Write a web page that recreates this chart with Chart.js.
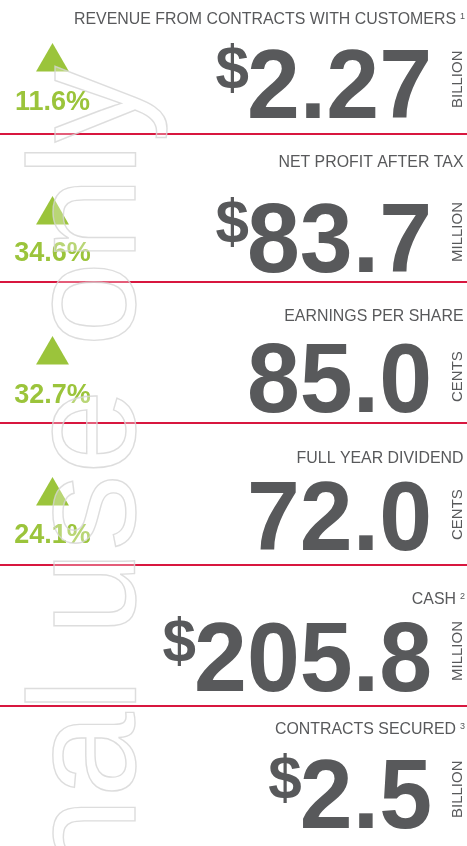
<!DOCTYPE html>
<html>
<head>
<meta charset="utf-8">
<script src="https://cdn.jsdelivr.net/npm/chart.js@4.4.1/dist/chart.umd.min.js"></script>
<style>
  html, body { margin:0; padding:0; background:#fff; }
  #kpi { display:block; }
</style>
</head>
<body>
<canvas id="kpi" width="467" height="846"></canvas>
<script>
// Data
const metrics = ['REVENUE FROM CONTRACTS WITH CUSTOMERS', 'NET PROFIT AFTER TAX', 'EARNINGS PER SHARE',
                 'FULL YEAR DIVIDEND', 'CASH', 'CONTRACTS SECURED'];
const notes = ['1', '', '', '', '2', '3'];
const values = [2.27, 83.7, 85.0, 72.0, 205.8, 2.5];
const decimals = [2, 1, 1, 1, 1, 1];
const prefixes = ['$', '$', '', '', '$', '$'];
const units = ['BILLION', 'MILLION', 'CENTS', 'CENTS', 'MILLION', 'BILLION'];
const changes = [11.6, 34.6, 32.7, 24.1, null, null];

// Layout (canvas units)
const rowEdges = [134, 282, 423, 564.5, 705.5];
const labelBase = [24, 166.5, 321, 463, 604, 734];
const numBase = [118, 272, 412, 550, 691, 828];
const arrowY = [62, 215, 355, 496];
const pctBase = [110, 261, 402.5, 543];
const arrowX = 52.5;
const numRight = 432;
const numSqueeze = 0.97;

const GREY = '#58595b';
const GREEN = '#9bc43b';
const RED = '#d8173f';
const FONT = '"Liberation Sans", Arial, Helvetica, sans-serif';

const ctx = document.getElementById('kpi').getContext('2d');

// Text: labels, big values, units, % change
const textPlugin = {
  id: 'kpiText',
  afterDatasetsDraw(chart){
    const c = chart.ctx;
    const y = chart.scales.y, x = chart.scales.x;
    c.save();
    metrics.forEach((m, i) => {
      // header label
      c.fillStyle = GREY;
      c.textBaseline = 'alphabetic';
      let right = x.getPixelForValue(463.5);
      if(notes[i]){
        c.font = '9px ' + FONT;
        c.textAlign = 'right';
        c.fillText(notes[i], x.getPixelForValue(465), y.getPixelForValue(labelBase[i] - 4.8));
        right = x.getPixelForValue(465) - c.measureText(notes[i]).width - 4;
      }
      c.font = '15.9px ' + FONT;
      c.textAlign = 'right';
      c.fillText(m, right, y.getPixelForValue(labelBase[i]));

      // big number (slightly condensed)
      const txt = values[i].toFixed(decimals[i]);
      const nr = x.getPixelForValue(numRight);
      const nb = y.getPixelForValue(numBase[i]);
      c.save();
      c.translate(nr, nb);
      c.scale(numSqueeze, 1);
      c.font = 'bold 98px ' + FONT;
      const w = c.measureText(txt).width;
      c.fillText(txt, 0, 0);
      if(prefixes[i]){
        c.font = 'bold 62px ' + FONT;
        c.fillText(prefixes[i], -w + 2, -30);
      }
      c.restore();

      // unit, vertical
      c.save();
      c.translate(x.getPixelForValue(461.5), nb - 10);
      c.rotate(-Math.PI / 2);
      c.font = '15px ' + FONT;
      c.textAlign = 'left';
      c.fillText(units[i], 0, 0);
      c.restore();

      // change
      if(changes[i] != null){
        c.fillStyle = GREEN;
        c.font = 'bold 27px ' + FONT;
        c.textAlign = 'center';
        c.fillText(changes[i].toFixed(1) + '%', x.getPixelForValue(arrowX), y.getPixelForValue(pctBase[i]));
      }
    });
    c.restore();
  },
  afterDraw(chart){
    // "For personal use only" outline watermark
    const c = chart.ctx;
    c.save();
    c.translate(135, 66);
    c.rotate(-Math.PI / 2);
    c.font = '153px ' + FONT;
    c.textAlign = 'right';
    c.textBaseline = 'alphabetic';
    c.fillStyle = 'rgba(255,255,255,0.3)';
    c.fillText('For personal use only', 0, 0);
    c.strokeStyle = 'rgba(212,212,212,0.8)';
    c.lineWidth = 1.4;
    c.strokeText('For personal use only', 0, 0);
    c.restore();
  }
};

new Chart(ctx, {
  type: 'scatter',
  data: {
    datasets: [{
      data: changes.map((v, i) => v == null ? null : { x: arrowX, y: arrowY[i] }).filter(p => p),
      pointStyle: 'triangle',
      pointRadius: 19,
      pointHoverRadius: 19,
      backgroundColor: GREEN,
      borderWidth: 0
    }]
  },
  options: {
    responsive: false,
    animation: false,
    events: [],
    layout: { padding: 0, autoPadding: false },
    plugins: { legend: { display: false }, tooltip: { enabled: false } },
    scales: {
      x: { type: 'linear', min: 0, max: 467, display: false },
      y: {
        type: 'linear', min: 0, max: 846, reverse: true,
        afterBuildTicks: axis => { axis.ticks = rowEdges.map(v => ({ value: v })); },
        ticks: { display: false },
        grid: { color: RED, lineWidth: 2, drawTicks: false },
        border: { display: false }
      }
    }
  },
  plugins: [textPlugin]
});
</script>
</body>
</html>
